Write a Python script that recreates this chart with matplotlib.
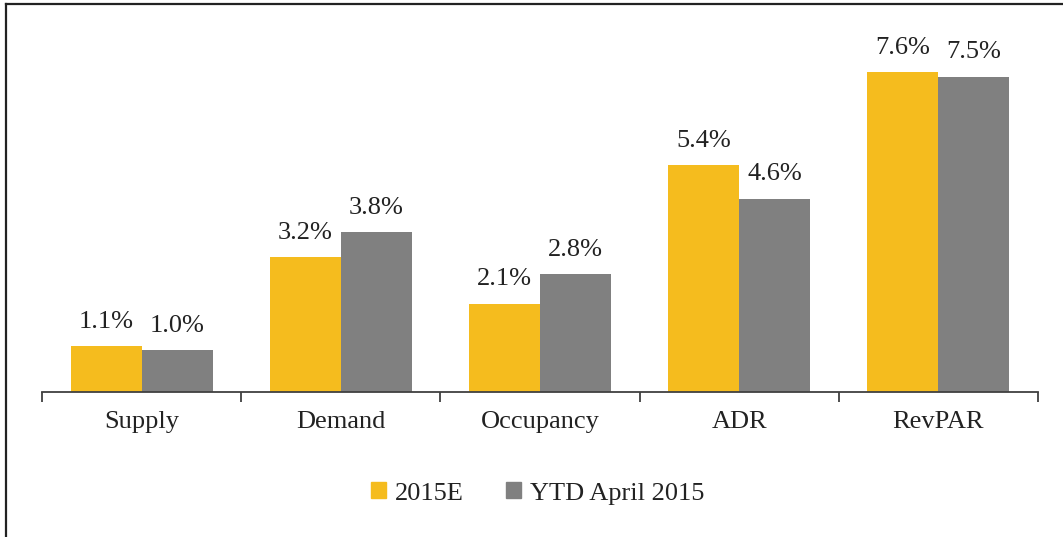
import matplotlib.pyplot as plt
import numpy as np
from matplotlib.lines import Line2D
from matplotlib.patches import Patch

# Data
categories = ["Supply", "Demand", "Occupancy", "ADR", "RevPAR"]
est_2015 = [1.1, 3.2, 2.1, 5.4, 7.6]
ytd_april = [1.0, 3.8, 2.8, 4.6, 7.5]
series_names = ["2015E", "YTD April 2015"]

yellow = "#F5BC1E"
gray = "#808080"

plt.rcParams["font.family"] = ["Liberation Serif", "DejaVu Serif"]
plt.rcParams["font.size"] = 19

fig = plt.figure(figsize=(10.63, 5.37), dpi=100)
ax = fig.add_axes([0.0395, 0.270, 0.937, 0.7207])

x = np.arange(len(categories))
w = 0.356
b1 = ax.bar(x - w / 2, est_2015, w, color=yellow)
b2 = ax.bar(x + w / 2, ytd_april, w, color=gray)

for bars, vals in [(b1, est_2015), (b2, ytd_april)]:
    for rect, v in zip(bars, vals):
        ax.annotate(f"{v:.1f}%", (rect.get_x() + rect.get_width() / 2, v),
                    xytext=(0, 9.5), textcoords="offset points",
                    ha="center", va="bottom", color="#222222")

ax.set_xlim(-0.5, len(categories) - 0.5)
ax.set_ylim(0, 9.2)
ax.set_yticks([])
for s in ["top", "right", "left"]:
    ax.spines[s].set_visible(False)
ax.spines["bottom"].set_color("#404040")
ax.spines["bottom"].set_linewidth(1.3)

ax.set_xticks(x)
ax.set_xticklabels(categories, color="#222222")
ax.tick_params(axis="x", which="major", length=0, pad=13.5)
ax.set_xticks(np.arange(-0.5, len(categories), 1), minor=True)
ax.tick_params(axis="x", which="minor", length=7.2, width=1.3, color="#404040")

handles = [Patch(color=yellow), Patch(color=gray)]
fig.legend(handles, series_names, loc="center", bbox_to_anchor=(0.506, 0.081),
           ncol=2, frameon=False, handlelength=0.56, handleheight=0.56,
           handletextpad=0.35, columnspacing=1.6, labelcolor="#222222")

# frame lines (top and left)
fig.add_artist(Line2D([6 / 1063, 1], [1 - 4 / 537, 1 - 4 / 537],
                      transform=fig.transFigure, color="#222222", lw=1.6))
fig.add_artist(Line2D([6 / 1063, 6 / 1063], [0, 1 - 4 / 537],
                      transform=fig.transFigure, color="#222222", lw=1.6))

fig.savefig("out.png", dpi=100)
